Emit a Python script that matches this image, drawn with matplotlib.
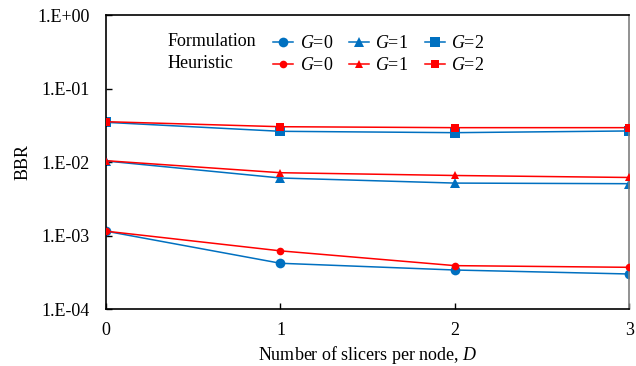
import matplotlib
matplotlib.use("Agg")
import matplotlib.pyplot as plt

plt.rcParams['font.family'] = ['Liberation Serif', 'DejaVu Serif']
plt.rcParams['mathtext.fontset'] = 'custom'
plt.rcParams['mathtext.it'] = 'Liberation Serif:italic'
plt.rcParams['mathtext.rm'] = 'Liberation Serif'

D = [0, 1, 2, 3]

form_g0 = [1.15e-3, 4.2e-4, 3.4e-4, 3.0e-4]
form_g1 = [1.04e-2, 6.1e-3, 5.2e-3, 5.1e-3]
form_g2 = [3.5e-2, 2.64e-2, 2.53e-2, 2.67e-2]

heur_g0 = [1.15e-3, 6.2e-4, 3.9e-4, 3.7e-4]
heur_g1 = [1.05e-2, 7.2e-3, 6.6e-3, 6.2e-3]
heur_g2 = [3.57e-2, 3.05e-2, 2.96e-2, 2.96e-2]

y_ticks = [1e-4, 1e-3, 1e-2, 1e-1, 1e0]
y_tick_labels = ["1.E-04", "1.E-03", "1.E-02", "1.E-01", "1.E+00"]
g_labels = ["$G$=0", "$G$=1", "$G$=2"]

blue = "#0070C0"
red = "#FF0000"

fig = plt.figure(figsize=(6.36, 3.66), dpi=100)
ax = fig.add_axes([0.1667, 0.1557, 0.823, 0.802])

markers = ["o", "^", "s"]
form_sizes = [7, 7, 7]
heur_sizes = [5.5, 6, 6]

form_handles = []
for vals, m, ms in zip([form_g0, form_g1, form_g2], markers, form_sizes):
    h, = ax.plot(D, vals, color=blue, lw=1.1, marker=m, ms=ms,
                 markeredgewidth=0, zorder=2)
    form_handles.append(h)

heur_handles = []
for vals, m, ms in zip([heur_g0, heur_g1, heur_g2], markers, heur_sizes):
    h, = ax.plot(D, vals, color=red, lw=1.1, marker=m, ms=ms,
                 markeredgewidth=0, zorder=3)
    heur_handles.append(h)

ax.set_yscale("log")
ax.set_ylim(1e-4, 1e0)
ax.set_xlim(0, 3)
ax.set_yticks(y_ticks)
ax.set_yticklabels(y_tick_labels)
ax.yaxis.set_minor_locator(matplotlib.ticker.NullLocator())
ax.set_xticks(D)
ax.tick_params(axis="both", direction="in", labelsize=13, length=4,
               width=1, colors="#000000")
ax.tick_params(axis="x", pad=9)
ax.tick_params(axis="y", pad=12)

for side in ["left", "top", "bottom"]:
    ax.spines[side].set_color("black")
    ax.spines[side].set_linewidth(1.2)
ax.spines["right"].set_color("#7f7f7f")
ax.spines["right"].set_linewidth(1.2)

ax.set_ylabel("BBR", fontsize=13, labelpad=4)
ax.set_xlabel("Number of slicers per node, $D$", fontsize=13, labelpad=4)

handles = []
labels = []
for i in range(3):
    handles += [form_handles[i], heur_handles[i]]
    labels += [g_labels[i], g_labels[i]]

leg = ax.legend(handles, labels, ncol=3, loc="upper left",
                bbox_to_anchor=(0.306, 0.957), frameon=False, fontsize=13,
                handlelength=1.1, handletextpad=0.35, columnspacing=0.9,
                labelspacing=0.25, borderaxespad=0)

fig.text(168 / 636, 1 - 42 / 366, "Formulation", fontsize=13, va="center")
fig.text(168 / 636, 1 - 64 / 366, "Heuristic", fontsize=13, va="center")

fig.savefig("out.png", dpi=100)
